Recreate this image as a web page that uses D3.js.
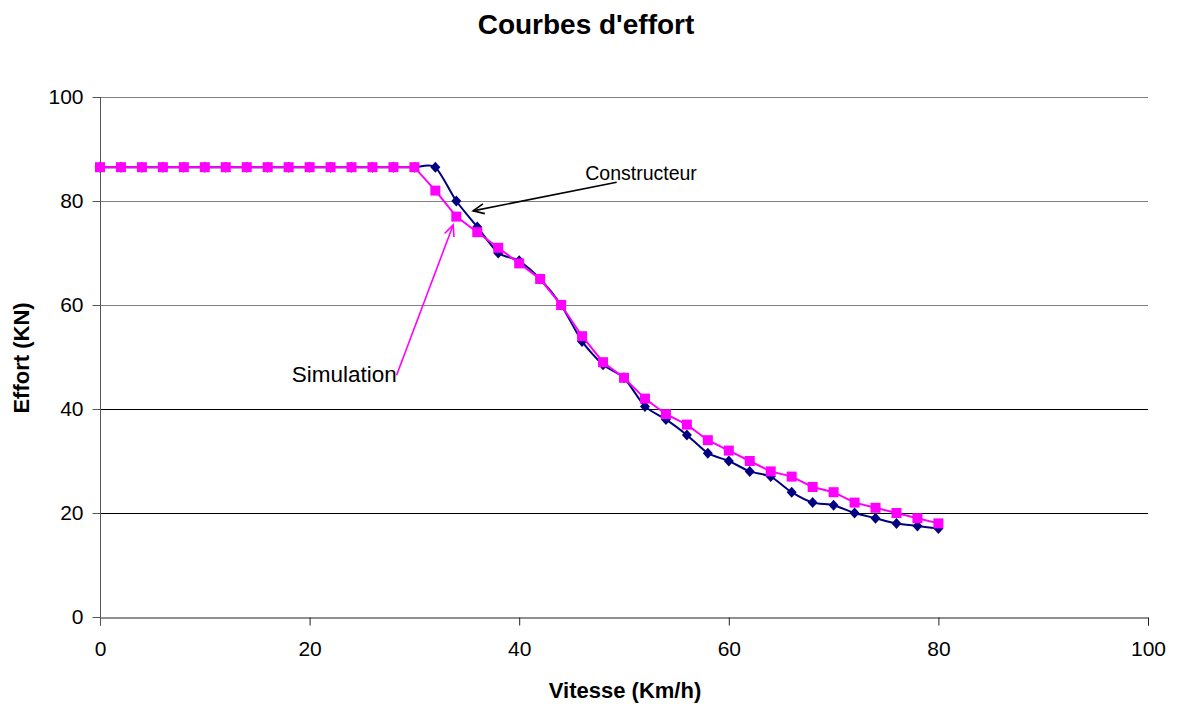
<!DOCTYPE html>
<html>
<head>
<meta charset="utf-8">
<script src="https://cdn.jsdelivr.net/npm/d3@7"></script>
<style>
  html, body { margin: 0; padding: 0; background: #fff; }
  svg { display: block; font-family: Arial, "Liberation Sans", sans-serif; }
</style>
</head>
<body>
<svg id="chart" width="1182" height="704"></svg>
<script>
// Vitesse (km/h) for every measured point
const vitesse = [0, 2, 4, 6, 8, 10, 12, 14, 16, 18, 20, 22, 24, 26, 28, 30, 32, 34, 36, 38, 40,
                 42, 44, 46, 48, 50, 52, 54, 56, 58, 60, 62, 64, 66, 68, 70, 72, 74, 76, 78, 80];

// Effort (kN) given by the manufacturer
const constructeur = [86.5, 86.5, 86.5, 86.5, 86.5, 86.5, 86.5, 86.5, 86.5, 86.5, 86.5, 86.5, 86.5, 86.5, 86.5, 86.5,
                      86.5, 80, 75, 70, 68.5, 65, 60, 53, 48.5, 46, 40.5, 38, 35, 31.5, 30, 28, 27, 24, 22, 21.5,
                      20, 19, 18, 17.5, 17];

// Effort (kN) from the simulation
const simulation = [86.5, 86.5, 86.5, 86.5, 86.5, 86.5, 86.5, 86.5, 86.5, 86.5, 86.5, 86.5, 86.5, 86.5, 86.5, 86.5,
                    82, 77, 74, 71, 68, 65, 60, 54, 49, 46, 42, 39, 37, 34, 32, 30, 28, 27, 25, 24,
                    22, 21, 20, 19, 18];

const xTicks = [0, 20, 40, 60, 80, 100];
const yTicks = [0, 20, 40, 60, 80, 100];

const svg = d3.select("#chart");
const plot = { left: 100, right: 1148, top: 97, bottom: 617 };

const x = d3.scaleLinear().domain([0, 100]).range([plot.left, plot.right]);
const y = d3.scaleLinear().domain([0, 100]).range([plot.bottom, plot.top]);

// Title
svg.append("text")
  .attr("x", 586).attr("y", 34)
  .attr("text-anchor", "middle")
  .attr("font-size", 28).attr("font-weight", "bold")
  .text("Courbes d'effort");

// Horizontal grid lines
svg.append("g").selectAll("line")
  .data(yTicks.filter(d => d > 0))
  .join("line")
  .attr("x1", x(0)).attr("x2", x(100))
  .attr("y1", d => Math.round(y(d)) + 0.5).attr("y2", d => Math.round(y(d)) + 0.5)
  .attr("stroke", d => d >= 60 ? "#808080" : "#000")
  .attr("stroke-width", 1);

// X axis
const xAxis = svg.append("g")
  .attr("transform", `translate(0,${plot.bottom + 0.5})`)
  .call(d3.axisBottom(x).tickValues(xTicks).tickSize(8).tickPadding(16).tickFormat(d3.format("d")));
xAxis.select(".domain").attr("stroke", "#222");
xAxis.selectAll(".tick line").attr("stroke", "#222");
xAxis.selectAll(".tick text").attr("font-size", 21).attr("fill", "#000")
  .attr("font-family", "Arial, 'Liberation Sans', sans-serif");

// Y axis
const yAxis = svg.append("g")
  .attr("transform", `translate(${plot.left + 0.5},0)`)
  .call(d3.axisLeft(y).tickValues(yTicks).tickSize(8).tickPadding(9).tickFormat(d3.format("d")));
yAxis.select(".domain").attr("stroke", "#555").attr("d", `M0,${plot.top}V${plot.bottom + 8}`);
yAxis.selectAll(".tick line").attr("stroke", "#555");
yAxis.selectAll(".tick text").attr("font-size", 21).attr("fill", "#000")
  .attr("font-family", "Arial, 'Liberation Sans', sans-serif");

// Axis titles
svg.append("text")
  .attr("x", 625).attr("y", 698)
  .attr("text-anchor", "middle")
  .attr("font-size", 22).attr("font-weight", "bold")
  .text("Vitesse (Km/h)");

svg.append("text")
  .attr("transform", `translate(29,${(plot.top + plot.bottom) / 2 + 1}) rotate(-90)`)
  .attr("text-anchor", "middle")
  .attr("font-size", 22).attr("font-weight", "bold")
  .text("Effort (KN)");

// Series
const ptsC = vitesse.map((v, i) => [v, constructeur[i]]);
const ptsS = vitesse.map((v, i) => [v, simulation[i]]);

const lineSmooth = d3.line().x(d => x(d[0])).y(d => y(d[1])).curve(d3.curveCardinal.tension(0.3));
const lineStraight = d3.line().x(d => x(d[0])).y(d => y(d[1]));

// Constructeur (navy, diamonds)
svg.append("path").datum(ptsC)
  .attr("d", lineSmooth)
  .attr("fill", "none").attr("stroke", "#000080").attr("stroke-width", 2);
svg.append("g").selectAll("path")
  .data(ptsC)
  .join("path")
  .attr("transform", d => `translate(${x(d[0])},${y(d[1])})`)
  .attr("d", "M0,-5.5L5,0L0,5.5L-5,0Z")
  .attr("fill", "#000080");

// Simulation (magenta, squares)
svg.append("path").datum(ptsS)
  .attr("d", lineStraight)
  .attr("fill", "none").attr("stroke", "#FF00FF").attr("stroke-width", 2);
svg.append("g").selectAll("rect")
  .data(ptsS)
  .join("rect")
  .attr("x", d => x(d[0]) - 5).attr("y", d => y(d[1]) - 5)
  .attr("width", 10).attr("height", 10)
  .attr("fill", "#FF00FF");

// Arrow heads
const defs = svg.append("defs");
[["arrowBlack", "#000"], ["arrowMagenta", "#FF00FF"]].forEach(([id, col]) => {
  defs.append("marker")
    .attr("id", id)
    .attr("markerUnits", "userSpaceOnUse")
    .attr("markerWidth", 16).attr("markerHeight", 16)
    .attr("viewBox", "-14 -8 16 16")
    .attr("refX", 0).attr("refY", 0)
    .attr("orient", "auto")
    .append("path")
    .attr("d", "M-11,-5L0,0L-11,5")
    .attr("fill", "none").attr("stroke", col).attr("stroke-width", 1.6);
});

// Annotation: Constructeur
svg.append("text")
  .attr("x", x(46.3)).attr("y", y(84.1))
  .attr("font-size", 19.5)
  .text("Constructeur");
svg.append("line")
  .attr("x1", x(49.3)).attr("y1", y(83.6))
  .attr("x2", x(35.6)).attr("y2", y(78.1))
  .attr("stroke", "#000").attr("stroke-width", 1.6)
  .attr("marker-end", "url(#arrowBlack)");

// Annotation: Simulation
svg.append("text")
  .attr("x", x(18.3)).attr("y", y(45.1))
  .attr("font-size", 22.5)
  .text("Simulation");
svg.append("line")
  .attr("x1", x(28.3)).attr("y1", y(46.5))
  .attr("x2", x(33.7)).attr("y2", y(75.4))
  .attr("stroke", "#FF00FF").attr("stroke-width", 1.6)
  .attr("marker-end", "url(#arrowMagenta)");
</script>
</body>
</html>
